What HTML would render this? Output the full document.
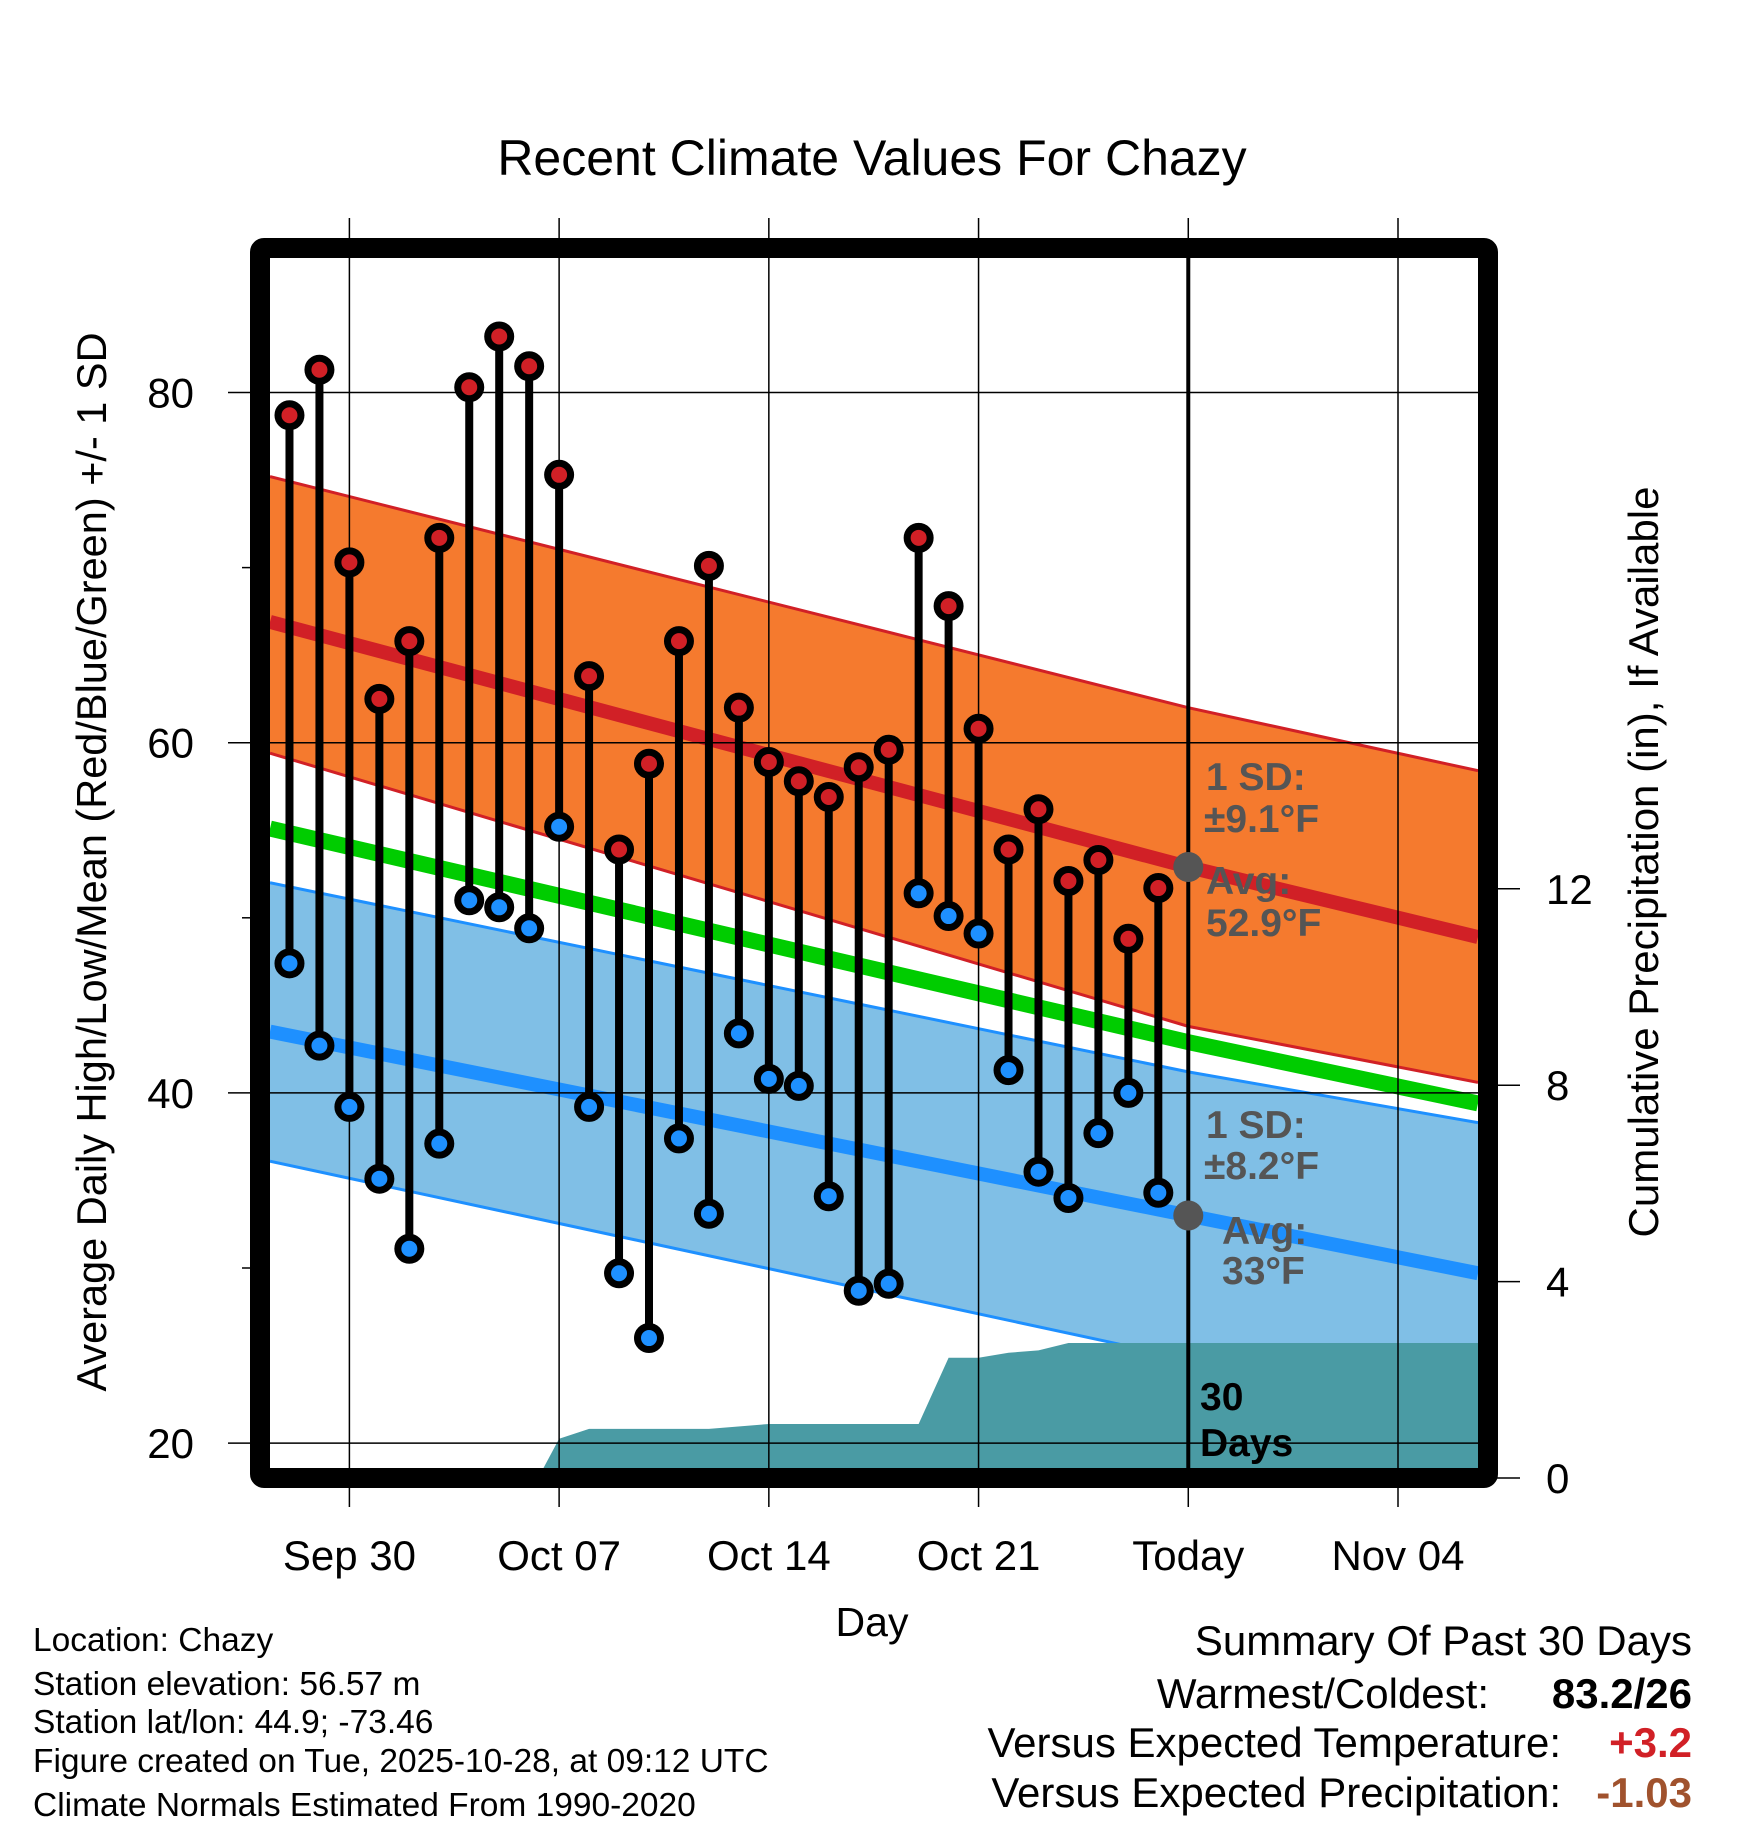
<!DOCTYPE html>
<html><head><meta charset="utf-8"><style>
html,body{margin:0;padding:0;background:#fff}
svg{display:block}
text{font-family:"Liberation Sans",sans-serif}
</style></head><body>
<svg id="chart" width="1748" height="1828" viewBox="0 0 1748 1828" xmlns="http://www.w3.org/2000/svg">
<defs><clipPath id="plotclip"><rect x="270" y="258" width="1208" height="1210"/></clipPath></defs>
<text x="872" y="175" font-size="50" text-anchor="middle">Recent Climate Values For Chazy</text>
<g id="plot" clip-path="url(#plotclip)"></g>
<g id="axes"></g>
<g id="marks"></g>
<rect x="260" y="248" width="1228" height="1230" fill="none" stroke="#000" stroke-width="20" rx="4"/>
<text transform="translate(106,862) rotate(-90)" font-size="41.5" text-anchor="middle">Average Daily High/Low/Mean (Red/Blue/Green) +/- 1 SD</text>
<text transform="translate(1658,862) rotate(-90)" font-size="42" text-anchor="middle">Cumulative Precipitation (in), If Available</text>
<text x="872" y="1636" font-size="41" text-anchor="middle">Day</text>
<g font-size="33.5">
<text x="33" y="1651">Location: Chazy</text>
<text x="33" y="1695">Station elevation: 56.57 m</text>
<text x="33" y="1733">Station lat/lon: 44.9; -73.46</text>
<text x="33" y="1772">Figure created on Tue, 2025-10-28, at 09:12 UTC</text>
<text x="33" y="1816">Climate Normals Estimated From 1990-2020</text>
</g>
<g font-size="42">
<text x="1692" y="1655" text-anchor="end">Summary Of Past 30 Days</text>
<text x="1489" y="1708" text-anchor="end">Warmest/Coldest:</text>
<text x="1692" y="1708" text-anchor="end" font-weight="bold">83.2/26</text>
<text x="1561" y="1757" text-anchor="end">Versus Expected Temperature:</text>
<text x="1692" y="1757" text-anchor="end" font-weight="bold" fill="#d12026">+3.2</text>
<text x="1561" y="1807" text-anchor="end">Versus Expected Precipitation:</text>
<text x="1692" y="1807" text-anchor="end" font-weight="bold" fill="#a0522d">-1.03</text>
</g>
</svg>
<script>
// data (day 0 = Sep 30)
const obsDays = [-2,-1,0,1,2,3,4,5,6,7,8,9,10,11,12,13,14,15,16,17,18,19,20,21,22,23,24,25,26,27];
const highs = [78.7,81.3,70.3,62.5,65.8,71.7,80.3,83.2,81.5,75.3,63.8,53.9,58.8,65.8,70.1,62.0,58.9,57.8,56.9,58.6,59.6,71.7,67.8,60.8,53.9,56.2,52.1,53.3,48.8,51.7];
const lows = [47.4,42.7,39.2,35.1,31.1,37.1,51.0,50.6,49.4,55.2,39.2,29.7,26.0,37.4,33.1,43.4,40.8,40.4,34.1,28.7,29.1,51.4,50.1,49.1,41.3,35.5,34.0,37.7,40.0,34.3];
const normDays = [-2.65,28,37.67];
const normHigh = [66.9,52.9,48.9];
const normHighUp = [75.2,62.0,58.4];
const normHighLo = [59.4,43.8,40.6];
const normLow = [43.5,33.0,29.7];
const normLowUp = [52.0,41.2,38.3];
const normLowLo = [36.1,24.8,22.0];
const normMean = [55.1,42.9,39.4];
const precipDays = [6.3,7,8,12,14,19,20,21,22,23,24,37.7];
const precipCum = [0,0.8,1.0,1.0,1.1,1.1,2.45,2.45,2.55,2.6,2.75,2.75];
const yTicks = [20,40,60,80];
const yMinor = [30,50,70];
const y2Ticks = [0,4,8,12];
const xTickDays = [0,7,14,21,28,35];
const xTickLabels = ["Sep 30","Oct 07","Oct 14","Oct 21","Today","Nov 04"];

const NS="http://www.w3.org/2000/svg";
const X = d => 349.4 + d*29.96;
const Y = t => 392.5 + (80-t)*17.51;
const Y2 = p => 1478 - p*49.1;
function mk(tag, attrs, parent){const e=document.createElementNS(NS,tag);for(const k in attrs)e.setAttribute(k,attrs[k]);parent.appendChild(e);return e;}
const plot=document.getElementById('plot'), axes=document.getElementById('axes'), marks=document.getElementById('marks');
function band(up,lo){let p=normDays.map((d,i)=>X(d)+','+Y(up[i]));p=p.concat(normDays.map((d,i)=>X(d)+','+Y(lo[i])).reverse());return p.join(' ');}
function line(arr){return normDays.map((d,i)=>X(d)+','+Y(arr[i])).join(' ');}
let e;
e=mk('polygon',{points:band(normHighUp,normHighLo),fill:'#f57a2e'},plot);


e=mk('polygon',{points:band(normLowUp,normLowLo),fill:'#80bfe6'},plot);


[[normHighUp,'#d12026'],[normHighLo,'#d12026'],[normLowUp,'#1e90ff'],[normLowLo,'#1e90ff']].forEach(([a,c])=>{
  e=mk('polyline',{points:line(a),fill:'none',stroke:c,'stroke-width':3},plot);
  
  
});
e=mk('polyline',{points:line(normHigh),fill:'none',stroke:'#d12026','stroke-width':14},plot);


e=mk('polyline',{points:line(normLow),fill:'none',stroke:'#1e90ff','stroke-width':14},plot);


e=mk('polyline',{points:line(normMean),fill:'none',stroke:'#00cc00','stroke-width':16},plot);


// precip area
let pp=[X(precipDays[0])+','+1478];
precipDays.forEach((d,i)=>pp.push(X(d)+','+Y2(precipCum[i])));
pp.push(X(precipDays[precipDays.length-1])+','+1478);
e=mk('polygon',{points:pp.join(' '),fill:'#4a9ba4'},plot);


// gridlines
yTicks.forEach(t=>{
  e=mk('line',{x1:228,x2:1478,y1:Y(t),y2:Y(t),stroke:'#000','stroke-width':1.5},axes);
  
  
  e=mk('text',{x:194,y:Y(t)+15,'font-size':42,'text-anchor':'end'},axes);
  e.textContent=t;
  
  
});
yMinor.forEach(t=>{
  e=mk('line',{x1:242,x2:252,y1:Y(t),y2:Y(t),stroke:'#000','stroke-width':1.5},axes);
  
  
});
y2Ticks.forEach(p=>{
  const yy=Y2(p);
  e=mk('line',{x1:1496,x2:1520,y1:yy,y2:yy,stroke:'#000','stroke-width':1.5},axes);
  
  
  e=mk('text',{x:1546,y:yy+15,'font-size':42},axes);
  e.textContent=p;
  
  
});
xTickDays.forEach((d,i)=>{
  e=mk('line',{x1:X(d),x2:X(d),y1:218,y2:1507,stroke:'#000','stroke-width':1.5},axes);
  
  
  if(d===28){
    e=mk('line',{x1:X(d),x2:X(d),y1:258,y2:1468,stroke:'#000','stroke-width':4},axes);
    
    
  }
  e=mk('text',{x:X(d),y:1570,'font-size':42,'text-anchor':'middle'},axes);
  e.textContent=xTickLabels[i];
  
  
});
// observations
obsDays.forEach((d,i)=>{
  e=mk('line',{x1:X(d),x2:X(d),y1:Y(highs[i]),y2:Y(lows[i]),stroke:'#000','stroke-width':8},marks);
  
  
});
obsDays.forEach((d,i)=>{
  e=mk('circle',{cx:X(d),cy:Y(highs[i]),r:11.5,fill:'#d12026',stroke:'#000','stroke-width':7},marks);
  
  
  e=mk('circle',{cx:X(d),cy:Y(lows[i]),r:11.5,fill:'#1e90ff',stroke:'#000','stroke-width':7},marks);
  
  
});
// today markers
e=mk('circle',{cx:X(28),cy:Y(normHigh[1]),r:15,fill:'#555'},marks);


e=mk('circle',{cx:X(28),cy:Y(normLow[1]),r:15,fill:'#555'},marks);


const ann=[[1206,790,'1 SD:','#555'],[1204,832,'±9.1°F','#555'],[1206,894,'Avg:','#555'],[1206,936,'52.9°F','#555'],
[1206,1138,'1 SD:','#555'],[1204,1179,'±8.2°F','#555'],[1222,1244,'Avg:','#555'],[1222,1284,'33°F','#555'],
[1200,1410,'30','#000'],[1200,1456,'Days','#000']];
ann.forEach(a=>{
  e=mk('text',{x:a[0],y:a[1],'font-size':39,'font-weight':'bold',fill:a[3]},marks);
  e.textContent=a[2];
  
  
});
</script>
</body></html>
